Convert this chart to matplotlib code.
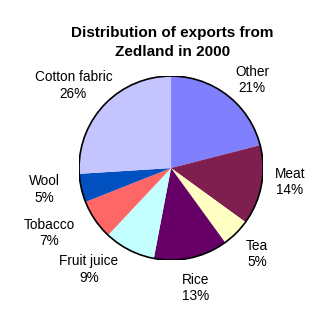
import numpy as np
import matplotlib.pyplot as plt

# exports of Zedland in 2000, clockwise from the top
categories = ["Other", "Meat", "Tea", "Rice", "Fruit juice", "Tobacco", "Wool", "Cotton fabric"]
shares = [21, 14, 5, 13, 9, 7, 5, 26]
colors = ["#8080FF", "#7F1F50", "#FFFFC4", "#660066", "#C4FFFF", "#FF6666", "#0050C0", "#C4C4FF"]

# label placement: distance from centre (in radii) and angle nudge (deg)
label_r = [1.30, 1.30, 1.32, 1.33, 1.42, 1.50, 1.40, 1.39]
label_dang = [-5, 4, 0, -1, -12, -6, -3, 3]

plt.rcParams["font.family"] = ["Liberation Sans", "DejaVu Sans"]

fig = plt.figure(figsize=(3.28, 3.18), dpi=100)
ax = fig.add_axes([0.241, 0.182, 0.561, 0.579])

wedges, _ = ax.pie(shares, colors=colors, startangle=90, counterclock=False,
                   wedgeprops={"linewidth": 0})

for w, c, s, r, da in zip(wedges, categories, shares, label_r, label_dang):
    ang = np.deg2rad((w.theta1 + w.theta2) / 2 + da)
    ax.text(r * np.cos(ang), r * np.sin(ang), f"{c}\n{s}%", ha="center", va="center",
            fontsize=9.8, linespacing=1.2, clip_on=False)

# dark outline round the pie
ax.add_patch(plt.Circle((0, 0), 1, fill=False, edgecolor="black", linewidth=1.2))
ax.set_xlim(-1, 1)
ax.set_ylim(-1, 1)
ax.set_aspect("equal")

fig.text(0.525, 0.866, "Distribution of exports from\nZedland in 2000", ha="center", va="center",
         fontsize=11, fontweight="bold", linespacing=1.45)

fig.savefig("out.png", dpi=100)
